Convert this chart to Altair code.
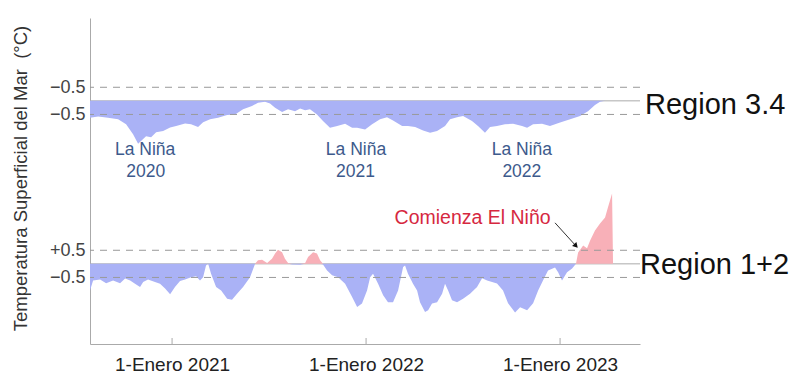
import altair as alt
import pandas as pd

# ---- data (decimal years, SST anomaly in °C) ----
years_34 = [2020.577, 2020.619, 2020.670, 2020.722, 2020.763, 2020.799, 2020.825, 2020.840,
            2020.866, 2020.892, 2020.918, 2020.954, 2020.990, 2021.021, 2021.067, 2021.098,
            2021.134, 2021.160, 2021.196, 2021.237, 2021.284, 2021.325, 2021.366, 2021.412,
            2021.443, 2021.479, 2021.505, 2021.531, 2021.567, 2021.598, 2021.634, 2021.660,
            2021.686, 2021.711, 2021.747, 2021.778, 2021.814, 2021.851, 2021.892, 2021.928,
            2021.954, 2021.995, 2022.031, 2022.072, 2022.108, 2022.139, 2022.186, 2022.216,
            2022.253, 2022.294, 2022.330, 2022.366, 2022.407, 2022.433, 2022.469, 2022.500,
            2022.546, 2022.577, 2022.613, 2022.639, 2022.675, 2022.716, 2022.758, 2022.804,
            2022.830, 2022.861, 2022.907, 2022.948, 2023.000, 2023.052, 2023.103, 2023.144,
            2023.180, 2023.206, 2023.232, 2023.268]
sst_34 = [-0.62, -0.58, -0.62, -0.68, -0.86, -1.23, -1.58, -1.48,
          -1.30, -1.34, -1.16, -1.11, -0.98, -0.93, -0.83, -0.86,
          -0.96, -0.79, -0.68, -0.62, -0.52, -0.50, -0.31, -0.19,
          -0.07, -0.03, -0.10, -0.25, -0.41, -0.31, -0.38, -0.28,
          -0.35, -0.31, -0.50, -0.74, -0.99, -0.93, -0.84, -0.99,
          -0.99, -1.05, -0.86, -0.68, -0.60, -0.72, -0.93, -0.93,
          -0.96, -1.09, -1.17, -1.11, -0.93, -0.68, -0.60, -0.56,
          -0.74, -0.93, -1.17, -0.96, -0.93, -0.86, -0.84, -0.93,
          -0.99, -0.86, -0.84, -0.93, -0.80, -0.68, -0.56, -0.38,
          -0.15, -0.03, 0.0, 0.0]

years_12 = [2020.577, 2020.593, 2020.629, 2020.660, 2020.696, 2020.732, 2020.758, 2020.784,
            2020.809, 2020.835, 2020.851, 2020.876, 2020.912, 2020.938, 2020.964, 2020.990,
            2021.015, 2021.041, 2021.067, 2021.098, 2021.124, 2021.144, 2021.160, 2021.175,
            2021.186, 2021.201, 2021.227, 2021.253, 2021.284, 2021.309, 2021.335, 2021.366,
            2021.402, 2021.428, 2021.443, 2021.464, 2021.490, 2021.515, 2021.531, 2021.546,
            2021.567, 2021.582, 2021.598, 2021.619, 2021.660, 2021.686, 2021.701, 2021.727,
            2021.747, 2021.763, 2021.778, 2021.799, 2021.825, 2021.856, 2021.892, 2021.928,
            2021.954, 2021.979, 2022.005, 2022.021, 2022.036, 2022.062, 2022.088, 2022.113,
            2022.139, 2022.165, 2022.191, 2022.201, 2022.216, 2022.242, 2022.263, 2022.278,
            2022.304, 2022.320, 2022.340, 2022.366, 2022.392, 2022.407, 2022.423, 2022.443,
            2022.469, 2022.500, 2022.536, 2022.572, 2022.598, 2022.624, 2022.675, 2022.706,
            2022.732, 2022.768, 2022.794, 2022.830, 2022.861, 2022.887, 2022.912, 2022.938,
            2022.974, 2022.990, 2023.010, 2023.036, 2023.062, 2023.082, 2023.093, 2023.119,
            2023.139, 2023.155, 2023.180, 2023.206, 2023.232, 2023.247, 2023.268, 2023.273]
sst_12 = [-0.98, -0.61, -0.58, -0.71, -0.61, -0.71, -0.54, -0.61,
          -0.73, -0.85, -0.67, -0.58, -0.67, -0.73, -0.91, -1.12,
          -0.85, -0.63, -0.58, -0.49, -0.46, -0.61, -0.49, -0.06,
          0.0, -0.36, -0.85, -0.98, -1.28, -1.32, -1.10, -0.85,
          -0.49, 0.0, 0.13, 0.15, 0.03, 0.19, 0.38, 0.52,
          0.43, 0.19, 0.03, -0.02, -0.03, 0.03, 0.25, 0.43,
          0.38, 0.13, -0.02, -0.24, -0.42, -0.49, -0.73, -1.22,
          -1.59, -1.46, -0.98, -0.49, -0.36, -0.73, -1.16, -1.41,
          -1.41, -0.98, -0.12, -0.06, -0.36, -0.73, -0.98, -1.41,
          -1.77, -1.71, -1.46, -1.41, -1.10, -0.73, -0.98, -1.34,
          -1.41, -1.28, -1.10, -0.85, -0.53, -0.61, -0.72, -0.98,
          -1.45, -1.79, -1.60, -1.71, -1.45, -0.98, -0.61, -0.24,
          -0.13, -0.31, -0.61, -0.31, -0.17, 0.0, 0.42, 0.68,
          0.57, 0.86, 1.23, 1.49, 1.71, 2.08, 2.59, 0.0]

# offsets of each region's baseline on the shared axis
base_34 = 6
base_12 = 0

tick_years = [2021, 2022, 2023]
ref_levels = [6.5, 5.5, 0.5, -0.5]
base_levels = [6, 0]

nina_text = ["La Niña", "2020", "La Niña", "2021", "La Niña", "2022"]
nina_x = [2020.861, 2020.864, 2021.948, 2021.946, 2022.803, 2022.803]
nina_y = [4.19, 3.39, 4.19, 3.39, 4.19, 3.39]

region_text = ["Region 3.4", "Region 1+2"]
region_x = [2023.438, 2023.412]
region_y = [5.85, -0.04]

nino_text = ["Comienza El Niño"]
nino_x = [2022.549]
nino_y = [1.68]

arrow_x = [2022.974]
arrow_y = [1.51]
arrow_x2 = [2023.082]
arrow_y2 = [0.66]

XD = [2020.577, 2023.412]
YD = [-2.95, 9.05]
xs = alt.Scale(domain=XD, nice=False, zero=False)
ys = alt.Scale(domain=YD, nice=False, zero=False)

BLUE = "#aab2f6"
RED = "#f8b0b8"

df34 = pd.DataFrame({"year": years_34, "v": sst_34, "base": base_34})
df12 = pd.DataFrame({"year": years_12, "v": sst_12, "base": base_12})

xax = alt.Axis(values=tick_years, labelExpr="'1-Enero ' + datum.value",
               title=None, ticks=False, grid=False, domainColor="#aaaaaa",
               labelFontSize=19, labelColor="#222222", labelPadding=11)
yax = alt.Axis(values=ref_levels,
               labelExpr="datum.value == 0.5 ? '+0.5' : '\u22120.5'",
               title="Temperatura Superficial del Mar\u00a0\u00a0(°C)",
               titleFontSize=18.5, titleFontWeight="normal", titleColor="#333333",
               titleX=-70, titleY=160, titleAngle=270, titleBaseline="middle",
               titleAlign="center",
               ticks=False, grid=False, domainColor="#aaaaaa",
               labelFontSize=18, labelColor="#444444", labelPadding=5)

# axis-only layer (first, so its axes are used)
axes_layer = alt.Chart(pd.DataFrame({"year": tick_years, "y": [0, 0, 0]})).mark_point(
    opacity=0).encode(
    x=alt.X("year:Q", scale=xs, axis=xax),
    y=alt.Y("y:Q", scale=ys, axis=yax),
)


def areas(df):
    b = alt.Chart(df).transform_calculate(
        pos="max(datum.v, 0) + datum.base",
        neg="min(datum.v, 0) + datum.base",
    )
    neg = b.mark_area(color=BLUE, opacity=1).encode(
        x=alt.X("year:Q", scale=xs),
        y=alt.Y("neg:Q", scale=ys),
        y2=alt.Y2("base:Q"),
    )
    pos = b.mark_area(color=RED, opacity=1).encode(
        x=alt.X("year:Q", scale=xs),
        y=alt.Y("pos:Q", scale=ys),
        y2=alt.Y2("base:Q"),
    )
    return neg + pos


baselines = alt.Chart(pd.DataFrame({"y": base_levels})).mark_rule(
    color="#aaaaaa", strokeWidth=1).encode(y=alt.Y("y:Q", scale=ys))

dashed = alt.Chart(pd.DataFrame({"y": ref_levels})).mark_rule(
    color="#999999", strokeWidth=1, strokeDash=[7, 6]).encode(
    y=alt.Y("y:Q", scale=ys))

ticks = alt.Chart(pd.DataFrame({"year": tick_years})).mark_rule(
    color="#aaaaaa", strokeWidth=1).encode(
    x=alt.X("year:Q", scale=xs), y=alt.value(326), y2=alt.value(320))

nina = alt.Chart(pd.DataFrame({"x": nina_x, "y": nina_y, "t": nina_text})).mark_text(
    fontSize=17.5, color="#3d5a8c", align="center", baseline="middle").encode(
    x=alt.X("x:Q", scale=xs), y=alt.Y("y:Q", scale=ys), text="t:N")

regions = alt.Chart(pd.DataFrame({"x": region_x, "y": region_y, "t": region_text})).mark_text(
    fontSize=29, color="#111111", align="left", baseline="middle").encode(
    x=alt.X("x:Q", scale=xs), y=alt.Y("y:Q", scale=ys), text="t:N")

nino = alt.Chart(pd.DataFrame({"x": nino_x, "y": nino_y, "t": nino_text})).mark_text(
    fontSize=19.5, color="#d6283f", align="center", baseline="middle").encode(
    x=alt.X("x:Q", scale=xs), y=alt.Y("y:Q", scale=ys), text="t:N")

adf = pd.DataFrame({"x": arrow_x, "y": arrow_y, "x2": arrow_x2, "y2": arrow_y2})
arrow_line = alt.Chart(adf).mark_rule(color="#333333", strokeWidth=1).encode(
    x=alt.X("x:Q", scale=xs), y=alt.Y("y:Q", scale=ys),
    x2="x2:Q", y2="y2:Q")
arrow_head = alt.Chart(adf).mark_point(shape="triangle-up", filled=True, color="#111111",
                                       size=35, angle=137.5, opacity=1).encode(
    x=alt.X("x2:Q", scale=xs), y=alt.Y("y2:Q", scale=ys))

chart = alt.layer(
    axes_layer,
    baselines,
    areas(df34),
    areas(df12),
    dashed,
    ticks,
    nina,
    regions,
    nino,
    arrow_line,
    arrow_head,
).properties(
    width=550,
    height=326,
    padding={"left": 82, "top": 10, "right": 152, "bottom": 32},
    autosize=alt.AutoSizeParams(type="none"),
    background="white",
).configure(font="Liberation Sans").configure_view(stroke=None)

chart.save("out.html", embed_options={"renderer": "svg", "actions": False})
